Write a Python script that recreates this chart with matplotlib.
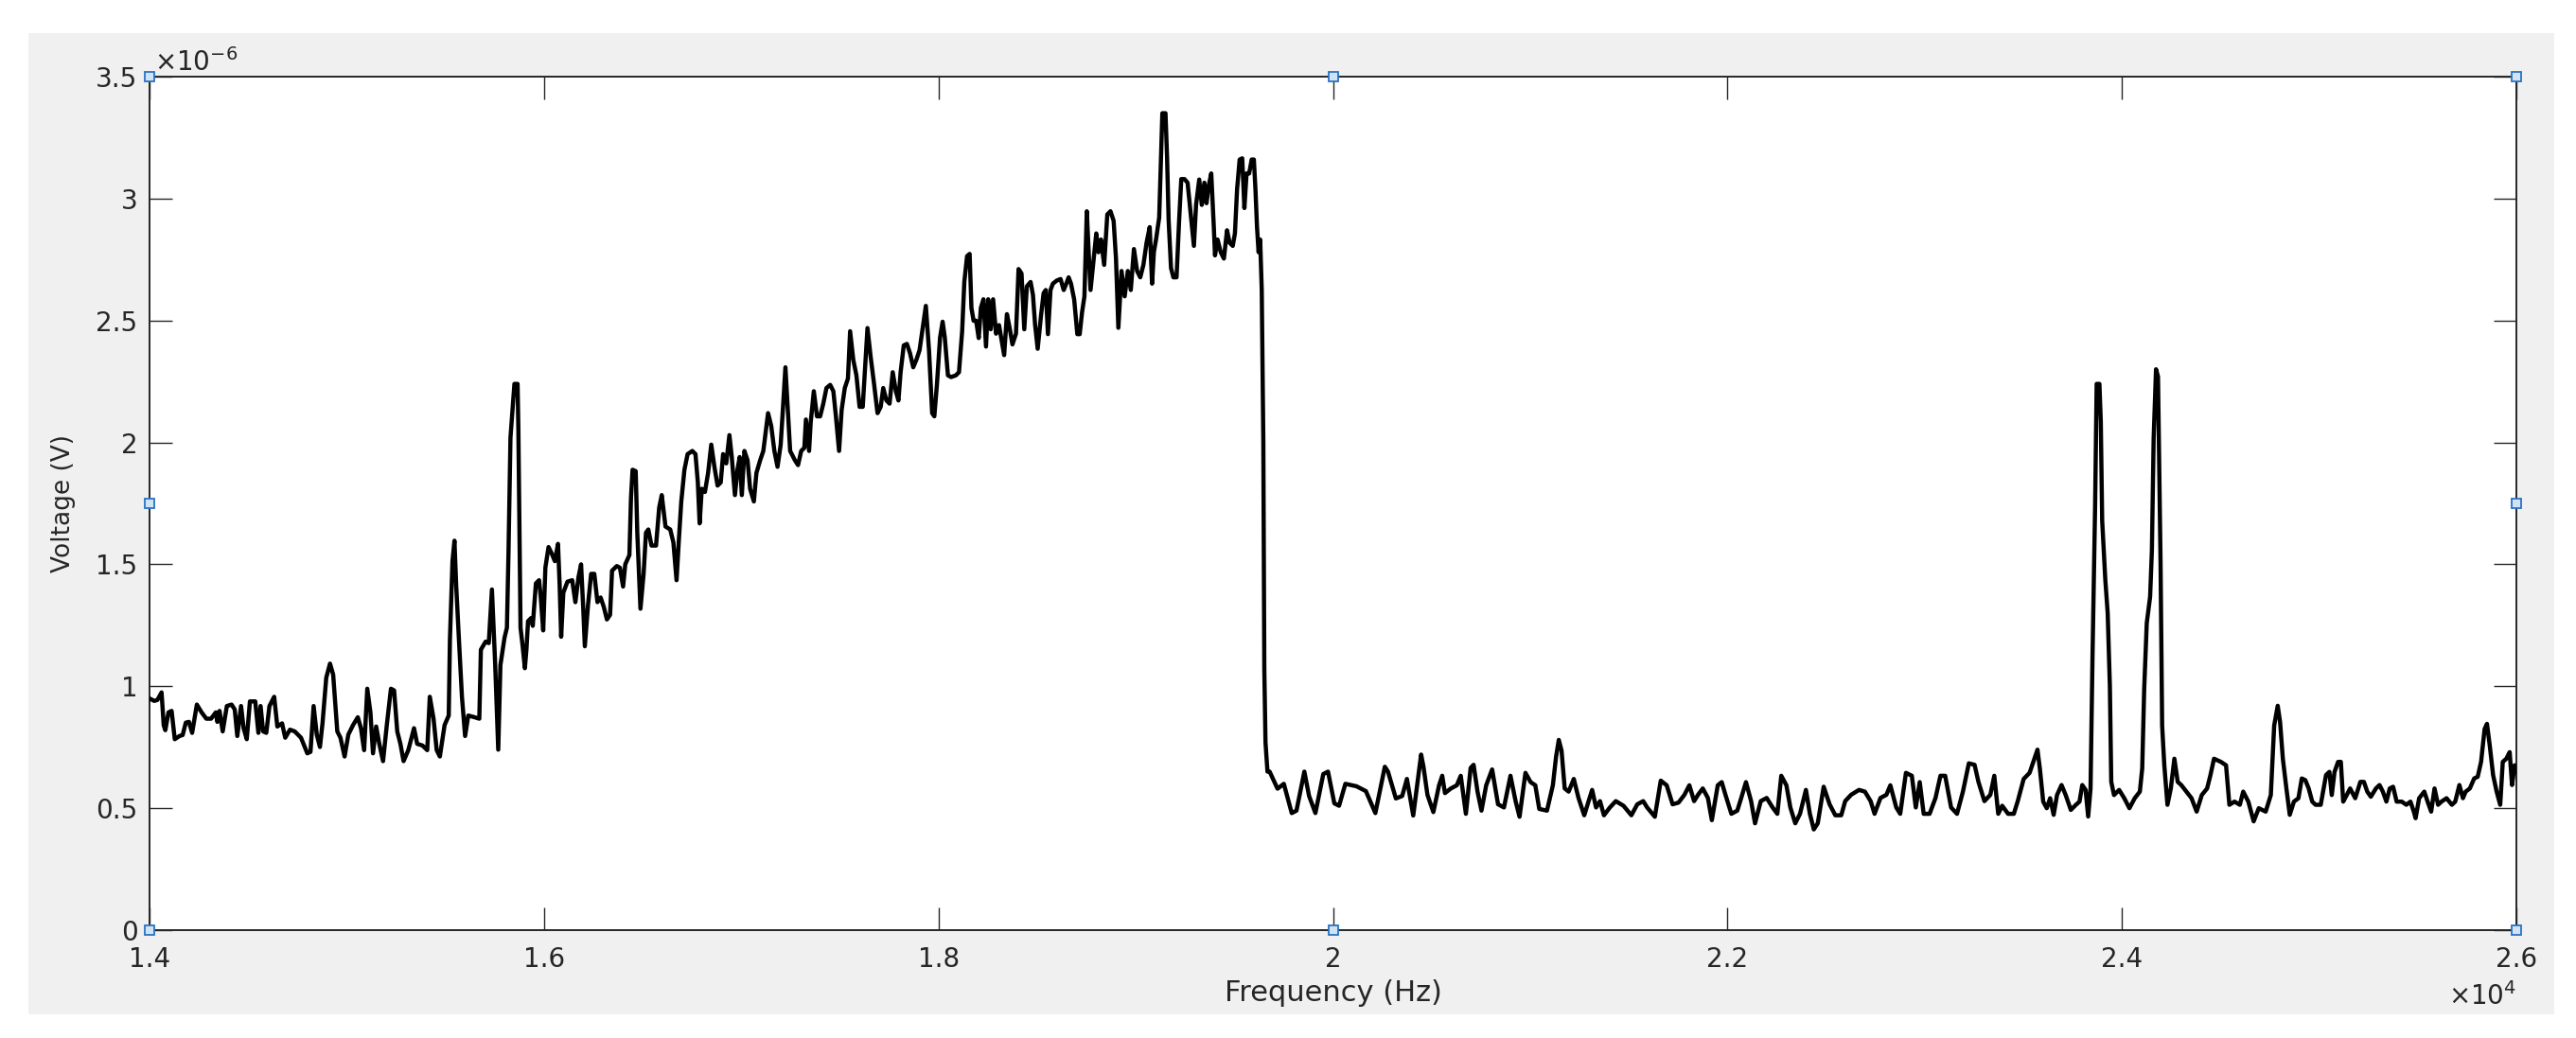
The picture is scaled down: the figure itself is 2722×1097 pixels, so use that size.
import matplotlib
matplotlib.use("Agg")
import matplotlib.pyplot as plt
from matplotlib.patches import Rectangle
from matplotlib.ticker import FuncFormatter

# ---------------- data ----------------
freq_hz = [
    14000, 14024, 14040, 14061, 14072, 14080, 14096, 14112, 14128, 14152, 14168, 14184, 14200, 14216,
    14240, 14264, 14288, 14312, 14336, 14344, 14355, 14371, 14392, 14416, 14432, 14445, 14464, 14477,
    14493, 14509, 14536, 14552, 14563, 14576, 14592, 14608, 14632, 14648, 14672, 14688, 14712, 14736,
    14768, 14800, 14816, 14832, 14848, 14864, 14877, 14896, 14915, 14931, 14952, 14968, 14989, 15008,
    15032, 15056, 15072, 15088, 15104, 15120, 15133, 15149, 15165, 15184, 15203, 15224, 15240, 15256,
    15272, 15288, 15312, 15341, 15357, 15384, 15408, 15421, 15440, 15456, 15472, 15496, 15517, 15523,
    15536, 15546, 15555, 15568, 15584, 15600, 15616, 15648, 15672, 15680, 15704, 15720, 15736, 15752,
    15768, 15779, 15800, 15812, 15820, 15830, 15850, 15866, 15870, 15877, 15881, 15892, 15903, 15911,
    15919, 15935, 15943, 15959, 15975, 15983, 15996, 16007, 16023, 16039, 16055, 16071, 16079, 16087,
    16098, 16119, 16143, 16159, 16175, 16188, 16199, 16207, 16223, 16239, 16255, 16271, 16287, 16303,
    16319, 16335,
    16345, 16369, 16385, 16401, 16412, 16433, 16441, 16449, 16465, 16473, 16489, 16505, 16517, 16529,
    16545, 16568, 16584, 16597, 16616, 16640, 16656, 16672, 16684, 16696, 16712, 16728, 16752, 16768,
    16780, 16789, 16800, 16816, 16832, 16848, 16864, 16880, 16896, 16908, 16924, 16940, 16952, 16968,
    16981, 16992, 17003, 17016, 17032, 17045, 17064, 17077, 17096, 17112, 17136, 17152, 17168, 17184,
    17200, 17211, 17224, 17237, 17248, 17272, 17288, 17304, 17320, 17328, 17344, 17352, 17368, 17384,
    17400, 17416, 17432, 17451, 17467, 17480, 17496, 17509, 17525, 17541, 17552, 17568, 17584, 17600,
    17616, 17632, 17640, 17656, 17672, 17691, 17707, 17720, 17736, 17752, 17768, 17784, 17797, 17808,
    17824, 17840, 17856, 17872, 17888, 17904, 17920, 17936, 17952, 17968, 17979, 17992, 18008, 18021,
    18032, 18048, 18064, 18088, 18104, 18120,
    18131, 18145, 18158, 18167, 18178, 18191, 18204, 18215, 18228, 18241, 18252, 18265, 18277, 18292,
    18307, 18320, 18333, 18347, 18360, 18375, 18393, 18406, 18421, 18435, 18448, 18467, 18479, 18490,
    18503,
    18520, 18533, 18544, 18555, 18568, 18580, 18600, 18619, 18635, 18648, 18660, 18672, 18688, 18704,
    18716, 18728, 18740, 18752, 18760, 18771, 18784, 18800, 18811, 18824, 18840, 18856, 18872, 18888,
    18900, 18912, 18928, 18944, 18960, 18975, 18991, 19007, 19023, 19039, 19055, 19071, 19083, 19092,
    19103, 19119, 19135, 19151, 19159, 19167, 19179, 19191, 19207, 19220, 19231, 19247, 19263, 19279,
    19295, 19306, 19322, 19335, 19348, 19359, 19370, 19383, 19396, 19402, 19415, 19431, 19447, 19463,
    19476, 19492, 19503, 19514, 19527, 19540, 19551, 19562, 19575, 19588, 19599, 19607, 19615, 19623,
    19631, 19639, 19647, 19652, 19658, 19668,
    19679, 19719, 19751, 19791, 19815, 19855, 19879, 19911, 19951, 19975, 20007, 20031, 20063, 20119,
    20167, 20215, 20263, 20279, 20319, 20351, 20375, 20407,
    20447, 20459, 20479, 20509, 20538, 20554, 20568, 20598, 20628, 20648, 20674, 20698, 20713, 20733,
    20753, 20777, 20807, 20837, 20867, 20900, 20926, 20946, 20976, 21002, 21026, 21046, 21085, 21115,
    21131, 21145, 21159, 21175, 21195, 21221, 21245, 21274, 21294, 21314, 21334, 21354, 21374, 21404,
    21434, 21473, 21513, 21543, 21573, 21593, 21632, 21662, 21692, 21722, 21752, 21782, 21807, 21831,
    21851, 21875, 21901, 21921, 21951, 21971, 21990, 22020, 22050, 22070, 22094, 22120, 22140, 22169,
    22199, 22229, 22253, 22273, 22299, 22319, 22344, 22368, 22398, 22418, 22438, 22458, 22488, 22518,
    22547, 22577, 22597, 22627, 22667, 22697, 22726, 22746, 22776, 22806, 22826, 22856, 22876, 22905,
    22935, 22955, 22975, 22995, 23025, 23055, 23080, 23104, 23134, 23164, 23194, 23224, 23253, 23273,
    23303, 23333, 23353, 23373, 23393, 23423, 23452, 23472, 23502, 23532,
    23572, 23584, 23601, 23619, 23636, 23654, 23671, 23694, 23715, 23741, 23767, 23785, 23799, 23816,
    23829, 23841, 23851, 23864, 23872, 23886, 23893, 23900, 23916, 23928, 23939, 23946, 23960, 23986,
    24012, 24038, 24065, 24091, 24103, 24113, 24126, 24143, 24152, 24161, 24173, 24183, 24196, 24204,
    24215, 24231, 24248, 24266, 24283, 24301, 24327, 24353, 24379, 24405, 24432, 24449, 24467, 24502,
    24528, 24545, 24571, 24598, 24615, 24641, 24668, 24694, 24729, 24755, 24772, 24790, 24802, 24816,
    24834, 24851, 24872, 24895, 24912, 24930, 24947, 24965, 24982, 25008, 25035, 25052, 25064, 25078,
    25096, 25110, 25122, 25140, 25157, 25183, 25209, 25227, 25244, 25262, 25288, 25306, 25323, 25341,
    25358, 25375, 25393, 25419, 25442, 25463, 25480, 25489, 25507, 25533, 25550, 25568, 25585, 25603,
    25620, 25646, 25673, 25690, 25711, 25729, 25743, 25764, 25786, 25804, 25821, 25839, 25851, 25865,
    25882, 25900, 25918, 25931, 25949, 25966, 25978, 25991, 26000,
]

voltage_uV = [
    0.950, 0.940, 0.944, 0.975, 0.840, 0.820, 0.893, 0.899, 0.783, 0.796, 0.800, 0.851, 0.854, 0.809,
    0.925, 0.893, 0.867, 0.867, 0.893, 0.854, 0.899, 0.815, 0.919, 0.925, 0.905, 0.796, 0.919, 0.828,
    0.783, 0.938, 0.938, 0.809, 0.919, 0.815, 0.809, 0.919, 0.957, 0.835, 0.848, 0.789, 0.822, 0.815,
    0.789, 0.725, 0.731, 0.919, 0.802, 0.751, 0.848, 1.035, 1.093, 1.048, 0.815, 0.789, 0.712, 0.802,
    0.841, 0.873, 0.828, 0.738, 0.990, 0.893, 0.725, 0.835, 0.764, 0.693, 0.841, 0.990, 0.983, 0.815,
    0.764, 0.693, 0.738, 0.828, 0.764, 0.757, 0.738, 0.957, 0.867, 0.738, 0.712, 0.841, 0.880, 1.190,
    1.513, 1.597, 1.410, 1.203, 0.957, 0.796, 0.880, 0.873, 0.867, 1.150, 1.183, 1.177, 1.397, 1.100,
    0.740, 1.087, 1.200, 1.240, 1.550, 2.020, 2.240, 2.240, 2.060, 1.525, 1.240, 1.163, 1.074, 1.151,
    1.267, 1.280, 1.248, 1.422, 1.435, 1.371, 1.229, 1.487, 1.571, 1.545, 1.513, 1.584, 1.422, 1.203,
    1.384, 1.429, 1.435, 1.345, 1.448, 1.500, 1.319, 1.164, 1.332, 1.461, 1.461, 1.345, 1.364, 1.326,
    1.274, 1.293,
    1.474, 1.493, 1.486, 1.409, 1.500, 1.538, 1.772, 1.888, 1.882, 1.630, 1.318, 1.461, 1.630, 1.643,
    1.577, 1.577, 1.733, 1.784, 1.655, 1.643, 1.590, 1.435, 1.603, 1.758, 1.888, 1.952, 1.965, 1.952,
    1.836, 1.668, 1.810, 1.797, 1.875, 1.991, 1.900, 1.823, 1.836, 1.952, 1.914, 2.030, 1.940, 1.784,
    1.888, 1.940, 1.784, 1.965, 1.927, 1.810, 1.758, 1.875, 1.927, 1.965, 2.120, 2.068, 1.965, 1.900,
    1.991, 2.133, 2.308, 2.120, 1.965, 1.927, 1.907, 1.965, 1.978, 2.094, 1.965, 2.081, 2.210, 2.107,
    2.107, 2.159, 2.223, 2.236, 2.210, 2.107, 1.965, 2.133, 2.223, 2.262, 2.456, 2.339, 2.275, 2.146,
    2.146, 2.365, 2.469, 2.352, 2.249, 2.120, 2.146, 2.223, 2.172, 2.159, 2.288, 2.210, 2.172, 2.288,
    2.398, 2.404, 2.365, 2.308, 2.339, 2.378, 2.469, 2.560, 2.378, 2.120, 2.107, 2.236, 2.430, 2.495,
    2.430, 2.275, 2.268, 2.275, 2.288, 2.456,
    2.658, 2.764, 2.773, 2.552, 2.499, 2.499, 2.428, 2.552, 2.587, 2.393, 2.587, 2.464, 2.587, 2.446,
    2.481, 2.420, 2.358, 2.526, 2.473, 2.402, 2.446, 2.711, 2.693, 2.464, 2.640, 2.658, 2.605, 2.481,
    2.384,
    2.521, 2.612, 2.625, 2.444, 2.625, 2.651, 2.664, 2.670, 2.625, 2.651, 2.677, 2.651, 2.586, 2.444,
    2.444, 2.534, 2.599, 2.948, 2.806, 2.625, 2.728, 2.857, 2.780, 2.832, 2.728, 2.935, 2.948, 2.909,
    2.754, 2.470, 2.703, 2.599, 2.703, 2.625, 2.793, 2.703, 2.677, 2.728, 2.819, 2.883, 2.651, 2.780,
    2.832, 2.922, 3.350, 3.350, 3.168, 2.909, 2.715, 2.677, 2.677, 2.909, 3.080, 3.080, 3.065, 2.935,
    2.806, 2.974, 3.078, 2.974, 3.065, 2.981, 3.052, 3.103, 2.883, 2.767, 2.832, 2.780, 2.754, 2.870,
    2.819, 2.806, 2.857, 3.039, 3.160, 3.165, 2.961, 3.103, 3.103, 3.160, 3.160, 3.039, 2.883, 2.780,
    2.832, 2.625, 2.003, 1.070, 0.770, 0.650,
    0.650, 0.580, 0.600, 0.480, 0.490, 0.650, 0.550, 0.480, 0.640, 0.650, 0.520, 0.510, 0.600, 0.590,
    0.570, 0.480, 0.670, 0.650, 0.540, 0.550, 0.620, 0.470,
    0.720, 0.670, 0.555, 0.484, 0.594, 0.633, 0.562, 0.581, 0.594, 0.633, 0.477, 0.665, 0.678, 0.568,
    0.490, 0.594, 0.659, 0.516, 0.503, 0.633, 0.529, 0.465, 0.645, 0.607, 0.594, 0.497, 0.490, 0.594,
    0.710, 0.780, 0.736, 0.581, 0.568, 0.620, 0.542, 0.471, 0.523, 0.575, 0.503, 0.529, 0.471, 0.503,
    0.529, 0.510, 0.471, 0.516, 0.529, 0.503, 0.465, 0.613, 0.594, 0.516, 0.523, 0.555, 0.594, 0.529,
    0.555, 0.581, 0.542, 0.451, 0.594, 0.607, 0.555, 0.477, 0.490, 0.542, 0.607, 0.529, 0.438, 0.529,
    0.542, 0.503, 0.477, 0.633, 0.594, 0.503, 0.438, 0.477, 0.575, 0.477, 0.413, 0.438, 0.588, 0.516,
    0.471, 0.471, 0.529, 0.555, 0.575, 0.568, 0.529, 0.477, 0.542, 0.555, 0.594, 0.503, 0.477, 0.645,
    0.633, 0.503, 0.607, 0.477, 0.477, 0.542, 0.633, 0.633, 0.503, 0.477, 0.568, 0.684, 0.678, 0.607,
    0.529, 0.555, 0.633, 0.477, 0.510, 0.477, 0.477, 0.529, 0.620, 0.645,
    0.740, 0.663, 0.527, 0.500, 0.541, 0.473, 0.554, 0.595, 0.554, 0.493, 0.514, 0.527, 0.595, 0.575,
    0.466, 0.581, 1.123, 1.733, 2.240, 2.240, 2.085, 1.679, 1.435, 1.300, 1.001, 0.608, 0.554, 0.575,
    0.541, 0.500, 0.541, 0.568, 0.663, 0.988, 1.259, 1.367, 1.557, 2.018, 2.300, 2.270, 1.503, 0.839,
    0.676, 0.514, 0.581, 0.703, 0.608, 0.595, 0.568, 0.541, 0.486, 0.554, 0.581, 0.636, 0.703, 0.690,
    0.676, 0.514, 0.527, 0.514, 0.568, 0.527, 0.446, 0.500, 0.486, 0.554, 0.839, 0.920, 0.853, 0.703,
    0.581, 0.473, 0.527, 0.541, 0.622, 0.615, 0.581, 0.527, 0.514, 0.514, 0.636, 0.649, 0.554, 0.649,
    0.690, 0.690, 0.527, 0.554, 0.581, 0.541, 0.608, 0.608, 0.568, 0.547, 0.581, 0.595, 0.568, 0.527,
    0.581, 0.588, 0.527, 0.527, 0.514, 0.527, 0.486, 0.459, 0.541, 0.568, 0.527, 0.486, 0.581, 0.514,
    0.527, 0.541, 0.514, 0.527, 0.595, 0.541, 0.568, 0.581, 0.622, 0.629, 0.690, 0.825, 0.846, 0.757,
    0.636, 0.568, 0.514, 0.690, 0.703, 0.730, 0.595, 0.676, 0.650,
]

x_ticks_hz = [14000, 16000, 18000, 20000, 22000, 24000, 26000]
y_ticks_uV = [0, 0.5, 1, 1.5, 2, 2.5, 3, 3.5]
x_label = "Frequency (Hz)"
y_label = "Voltage (V)"
x_exponent = r"$\times10^{4}$"
y_exponent = r"$\times10^{-6}$"

# selection-handle positions (axes fractions)
handle_pos = [(0, 0), (0.5, 0), (1, 0), (0, 0.5), (1, 0.5), (0, 1), (0.5, 1), (1, 1)]

# ---------------- figure ----------------
W, H = 2722, 1097
plt.rcParams["font.family"] = ["DejaVu Sans"]
plt.rcParams["mathtext.fontset"] = "dejavusans"

fig = plt.figure(figsize=(W / 100, H / 100), dpi=100)
fig.patch.set_facecolor("white")
fig.patches.append(Rectangle((30 / W, 1 - 1072 / H), 2669 / W, 1037 / H,
                             transform=fig.transFigure, facecolor="#F0F0F0",
                             edgecolor="none", zorder=-10))

ax = fig.add_axes([158 / W, 1 - 983 / H, (2659 - 158) / W, (983 - 81) / H])
ax.set_zorder(5)
ax.set_facecolor("white")

ax.plot(freq_hz, [v * 1e-6 for v in voltage_uV], color="black", lw=3.2,
        solid_joinstyle="round", zorder=3)

ax.set_xlim(x_ticks_hz[0], x_ticks_hz[-1])
ax.set_ylim(y_ticks_uV[0] * 1e-6, y_ticks_uV[-1] * 1e-6)
ax.set_xticks(x_ticks_hz)
ax.set_yticks([v * 1e-6 for v in y_ticks_uV])
ax.xaxis.set_major_formatter(FuncFormatter(lambda v, p: f"{round(v / 1e4, 6):g}"))
ax.yaxis.set_major_formatter(FuncFormatter(lambda v, p: f"{round(v * 1e6, 6):g}"))

dark = "#262626"
for s in ax.spines.values():
    s.set_color(dark)
    s.set_linewidth(1.4)
ax.tick_params(axis="both", which="major", direction="in", length=17, width=1.0,
               color=dark, labelcolor=dark, labelsize=20, top=True, right=True)
ax.tick_params(axis="x", pad=12)
ax.tick_params(axis="y", pad=9)

ax.set_xlabel(x_label, fontsize=22, color=dark)
ax.xaxis.set_label_coords(0.5, -0.058)
ax.set_ylabel(y_label, fontsize=19, color=dark)
ax.yaxis.set_label_coords(-0.031, 0.5)

ax.text(0.002, 1.0067, y_exponent, transform=ax.transAxes, fontsize=20,
        color=dark, ha="left", va="baseline")
ax.text(1.0, -0.0876, x_exponent, transform=ax.transAxes, fontsize=20,
        color=dark, ha="right", va="baseline")

hx = [p[0] for p in handle_pos]
hy = [p[1] for p in handle_pos]
ax.plot(hx, hy, linestyle="none", marker="s", markersize=6.5,
        markerfacecolor="#cfe3f6", markeredgecolor="#2b72c2", markeredgewidth=1.3,
        transform=ax.transAxes, clip_on=False, zorder=10)

fig.savefig("out.png", dpi=100, facecolor=fig.get_facecolor())
